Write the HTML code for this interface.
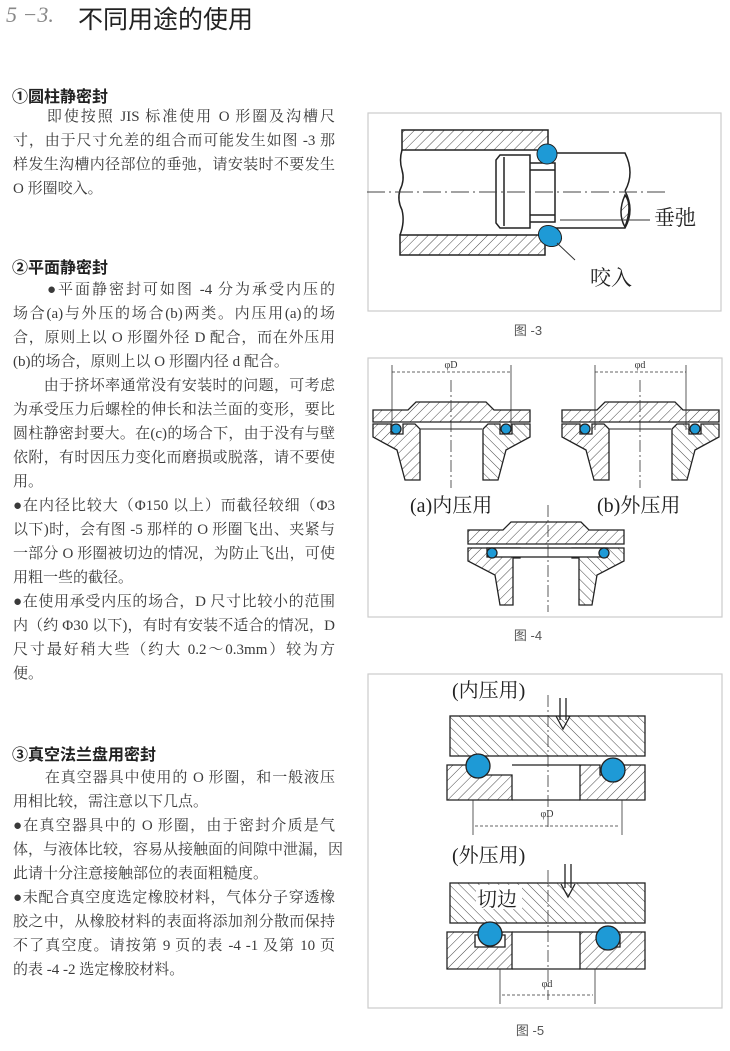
<!DOCTYPE html>
<html><head><meta charset="utf-8"><style>
body{margin:0;width:730px;height:1051px;background:#fff;position:relative;overflow:hidden;font-family:"Liberation Sans","Noto Sans CJK SC",sans-serif;color:#333}
.t{position:absolute;left:13px;width:322px;font-size:15px;line-height:24px;height:24px;white-space:nowrap;text-align:justify;text-align-last:justify;font-family:"Liberation Serif","Noto Serif CJK SC",serif;color:#3a3a3a}
.l{text-align-last:left}
.h{position:absolute;left:12px;font-size:16px;font-weight:bold;color:#222;font-family:"Liberation Sans","Noto Sans CJK SC",sans-serif}
</style></head><body>
<div style="position:absolute;left:6px;top:2px;font-size:22px;font-style:italic;color:#888;font-family:'Liberation Serif',serif">5 −3.</div>
<div style="position:absolute;left:78px;top:0px;font-size:25px;color:#222">不同用途的使用</div>

<div class="h" style="top:83px">①圆柱静密封</div>
<div class="t" style="top:105px">　　即使按照 JIS 标准使用 O 形圈及沟槽尺</div>
<div class="t" style="top:129px">寸，由于尺寸允差的组合而可能发生如图 -3 那</div>
<div class="t" style="top:153px">样发生沟槽内径部位的垂弛，请安装时不要发生</div>
<div class="t l" style="top:177px">O 形圈咬入。</div>

<div class="h" style="top:254px">②平面静密封</div>
<div class="t" style="top:278px">　　●平面静密封可如图 -4 分为承受内压的</div>
<div class="t" style="top:302px">场合(a)与外压的场合(b)两类。内压用(a)的场</div>
<div class="t" style="top:326px">合，原则上以 O 形圈外径 D 配合，而在外压用</div>
<div class="t l" style="top:350px">(b)的场合，原则上以 O 形圈内径 d 配合。</div>
<div class="t" style="top:374px">　　由于挤坏率通常没有安装时的问题，可考虑</div>
<div class="t" style="top:398px">为承受压力后螺栓的伸长和法兰面的变形，要比</div>
<div class="t" style="top:422px">圆柱静密封要大。在(c)的场合下，由于没有与壁</div>
<div class="t" style="top:446px">依附，有时因压力变化而磨损或脱落，请不要使</div>
<div class="t l" style="top:470px">用。</div>
<div class="t" style="top:494px">●在内径比较大（Φ150 以上）而截径较细（Φ3</div>
<div class="t" style="top:518px">以下)时，会有图 -5 那样的 O 形圈飞出、夹紧与</div>
<div class="t" style="top:542px">一部分 O 形圈被切边的情况，为防止飞出，可使</div>
<div class="t l" style="top:566px">用粗一些的截径。</div>
<div class="t" style="top:590px">●在使用承受内压的场合，D 尺寸比较小的范围</div>
<div class="t" style="top:614px">内（约 Φ30 以下)，有时有安装不适合的情况，D</div>
<div class="t" style="top:638px">尺寸最好稍大些（约大 0.2～0.3mm）较为方</div>
<div class="t l" style="top:662px">便。</div>

<div class="h" style="top:741px">③真空法兰盘用密封</div>
<div class="t" style="top:766px">　　在真空器具中使用的 O 形圈，和一般液压</div>
<div class="t l" style="top:790px">用相比较，需注意以下几点。</div>
<div class="t" style="top:814px">●在真空器具中的 O 形圈，由于密封介质是气</div>
<div class="t" style="top:838px">体，与液体比较，容易从接触面的间隙中泄漏，因</div>
<div class="t l" style="top:862px">此请十分注意接触部位的表面粗糙度。</div>
<div class="t" style="top:886px">●未配合真空度选定橡胶材料，气体分子穿透橡</div>
<div class="t" style="top:910px">胶之中，从橡胶材料的表面将添加剂分散而保持</div>
<div class="t" style="top:934px">不了真空度。请按第 9 页的表 -4 -1 及第 10 页</div>
<div class="t l" style="top:958px">的表 -4 -2 选定橡胶材料。</div>

<svg width="730" height="1051" style="position:absolute;left:0;top:0" font-family="Liberation Serif,Noto Serif CJK SC,serif">
<defs>
<pattern id="hp" width="7" height="7" patternUnits="userSpaceOnUse" patternTransform="rotate(45)">
<line x1="0" y1="0" x2="0" y2="7" stroke="#333" stroke-width="0.9"/></pattern>
<pattern id="hn" width="7" height="7" patternUnits="userSpaceOnUse" patternTransform="rotate(-45)">
<line x1="0" y1="0" x2="0" y2="7" stroke="#333" stroke-width="0.9"/></pattern>
</defs>
<g fill="none" stroke="#ccc" stroke-width="1.2">
<rect x="368" y="113" width="353" height="198"/>
<rect x="368" y="358" width="354" height="259"/>
<rect x="368" y="674" width="354" height="334"/>
</g>
<g font-family="Liberation Sans,Noto Sans CJK SC,sans-serif" font-size="13" fill="#555" text-anchor="middle">
<text x="528" y="335">图 -3</text><text x="528" y="640">图 -4</text><text x="530" y="1035">图 -5</text></g>

<!-- FIG 3 -->
<g stroke="#222" stroke-width="1.5">
<rect x="402" y="130" width="146" height="20" fill="url(#hp)"/>
<rect x="400" y="235" width="145" height="20" fill="url(#hp)"/>
<path d="M402 150 q-3 10 0 20 q3 10 -2 20 q-3 10 2 20 q3 12 -2 25" fill="none"/>
<path d="M500 155 h30 v73 h-30 l-4 -5 v-63 z M504 157 v69" fill="none"/>
<path d="M530 163 h25 v59 h-25 M530 215 h25 M530 170 h25" fill="none"/>
<path d="M555 153 h70 q10 20 0 38 M555 228 h70 q10 -18 0 -37" fill="none"/>
<path d="M625 195 q8 10 0 32 q-8 -14 0 -32z" fill="url(#hp)"/>
</g>
<line x1="367" y1="192" x2="668" y2="192" stroke="#444" stroke-width="1" stroke-dasharray="18,4,2,4"/>
<circle cx="547" cy="154" r="10" fill="#1e9ad6" stroke="#222"/>
<ellipse cx="550" cy="236" rx="12" ry="10" fill="#1e9ad6" stroke="#222" transform="rotate(30 550 236)"/>
<line x1="560" y1="220" x2="650" y2="220" stroke="#333"/>
<line x1="557" y1="243" x2="575" y2="260" stroke="#333"/>
<text x="654" y="225" font-size="21" fill="#222">垂弛</text>
<text x="590" y="285" font-size="21" fill="#222">咬入</text>

<!-- FIG 4 -->
<g id="fa" stroke="#222" stroke-width="1.3">
<path d="M373 410 h35 l8 -8 h70 l8 8 h36 v12 h-157z" fill="url(#hp)"/>
<path d="M373 424 h18 v10 h12 v-10 h12 l5 5 v51 h-15 l-8 -30 l-24 -13 z" fill="url(#hp)"/>
<path d="M530 424 h-18 v10 h-12 v-10 h-12 l-5 5 v51 h15 l8 -30 l24 -13 z" fill="url(#hn)"/>
<line x1="420" y1="429" x2="482" y2="429" stroke-width="1"/>
<circle cx="396" cy="429" r="5" fill="#1e9ad6"/>
<circle cx="506" cy="429" r="5" fill="#1e9ad6"/>
</g>
<g stroke="#333" stroke-width="0.8" fill="none">
<line x1="392" y1="365" x2="392" y2="430"/><line x1="511" y1="365" x2="511" y2="430"/>
<line x1="392" y1="372" x2="511" y2="372" stroke-dasharray="3,2"/>
<line x1="451" y1="380" x2="451" y2="488" stroke-dasharray="12,3,2,3"/>
</g>
<text x="451" y="368" font-size="10" text-anchor="middle" fill="#333">φD</text>
<use href="#fa" x="189"/>
<g stroke="#333" stroke-width="0.8" fill="none">
<line x1="595" y1="365" x2="595" y2="430"/><line x1="686" y1="365" x2="686" y2="430"/>
<line x1="595" y1="372" x2="686" y2="372" stroke-dasharray="3,2"/>
<line x1="640" y1="380" x2="640" y2="488" stroke-dasharray="12,3,2,3"/>
</g>
<text x="640" y="368" font-size="10" text-anchor="middle" fill="#333">φd</text>
<text x="410" y="512" font-size="20" fill="#222">(a)内压用</text>
<text x="597" y="512" font-size="20" fill="#222">(b)外压用</text>
<g stroke="#222" stroke-width="1.3">
<path d="M468 530 h35 l8 -8 h70 l8 8 h35 v14 h-156z" fill="url(#hp)"/>
<path d="M468 548 h52 v10 h-7 v47 h-13 l-5 -30 l-27 -14z" fill="url(#hp)"/>
<path d="M624 548 h-52 v10 h7 v47 h13 l5 -30 l27 -14z" fill="url(#hn)"/>
<rect x="487" y="548" width="120" height="9" fill="#fff"/>
<circle cx="492" cy="553" r="5" fill="#1e9ad6"/>
<circle cx="604" cy="553" r="5" fill="#1e9ad6"/>
</g>
<line x1="548" y1="505" x2="548" y2="612" stroke="#333" stroke-width="0.8" stroke-dasharray="12,3,2,3"/>

<!-- FIG 5 -->
<text x="452" y="697" font-size="20" fill="#222">(内压用)</text>
<g stroke="#222" stroke-width="1.3">
<rect x="450" y="716" width="195" height="40" fill="url(#hn)"/>
<path d="M447 765 h28 v10 h37 v25 h-65z" fill="url(#hp)"/>
<path d="M580 765 h20 v10 h20 v-10 h25 v35 h-65z" fill="url(#hp)"/>
<path d="M512 765 h68 M512 800 h68" fill="none"/>
<circle cx="478" cy="766" r="12" fill="#1e9ad6"/>
<circle cx="613" cy="770" r="12" fill="#1e9ad6"/>
</g>
<text x="452" y="862" font-size="20" fill="#222">(外压用)</text>
<g stroke="#222" stroke-width="1.3">
<rect x="450" y="883" width="195" height="40" fill="url(#hn)"/>
<path d="M447 932 h65 v37 h-65z" fill="url(#hp)"/>
<path d="M580 932 h65 v37 h-65z" fill="url(#hp)"/>
<path d="M475 935 h30 v12 h-30z M600 935 h20 v12 h-20z" fill="#fff"/>
<path d="M512 932 h68 M512 969 h68" fill="none"/>
<circle cx="490" cy="934" r="12" fill="#1e9ad6"/>
<circle cx="608" cy="938" r="12" fill="#1e9ad6"/>
</g>
<rect x="476" y="885" width="46" height="24" fill="#fff"/>
<text x="477" y="906" font-size="20" fill="#222">切边</text>
<g stroke="#333" stroke-width="0.8" fill="none">
<line x1="548" y1="695" x2="548" y2="830" stroke-dasharray="12,3,2,3"/>
<line x1="548" y1="870" x2="548" y2="1000" stroke-dasharray="12,3,2,3"/>
<line x1="473" y1="800" x2="473" y2="835"/><line x1="622" y1="800" x2="622" y2="835"/>
<line x1="475" y1="826" x2="620" y2="826" stroke-dasharray="3,2"/>
<line x1="500" y1="969" x2="500" y2="1004"/><line x1="595" y1="969" x2="595" y2="1004"/>
<line x1="502" y1="995" x2="593" y2="995" stroke-dasharray="3,2"/>
</g>
<g stroke="#222" stroke-width="1.3" fill="none">
<path d="M560 698 v22 M566 698 v22 M556 716 l7 13 l7 -13"/>
<path d="M565 864 v24 M571 864 v24 M561 884 l7 13 l7 -13"/>
</g>
<text x="547" y="817" font-size="10" text-anchor="middle" fill="#333">φD</text>
<text x="547" y="987" font-size="10" text-anchor="middle" fill="#333">φd</text>
</svg>
</body></html>
